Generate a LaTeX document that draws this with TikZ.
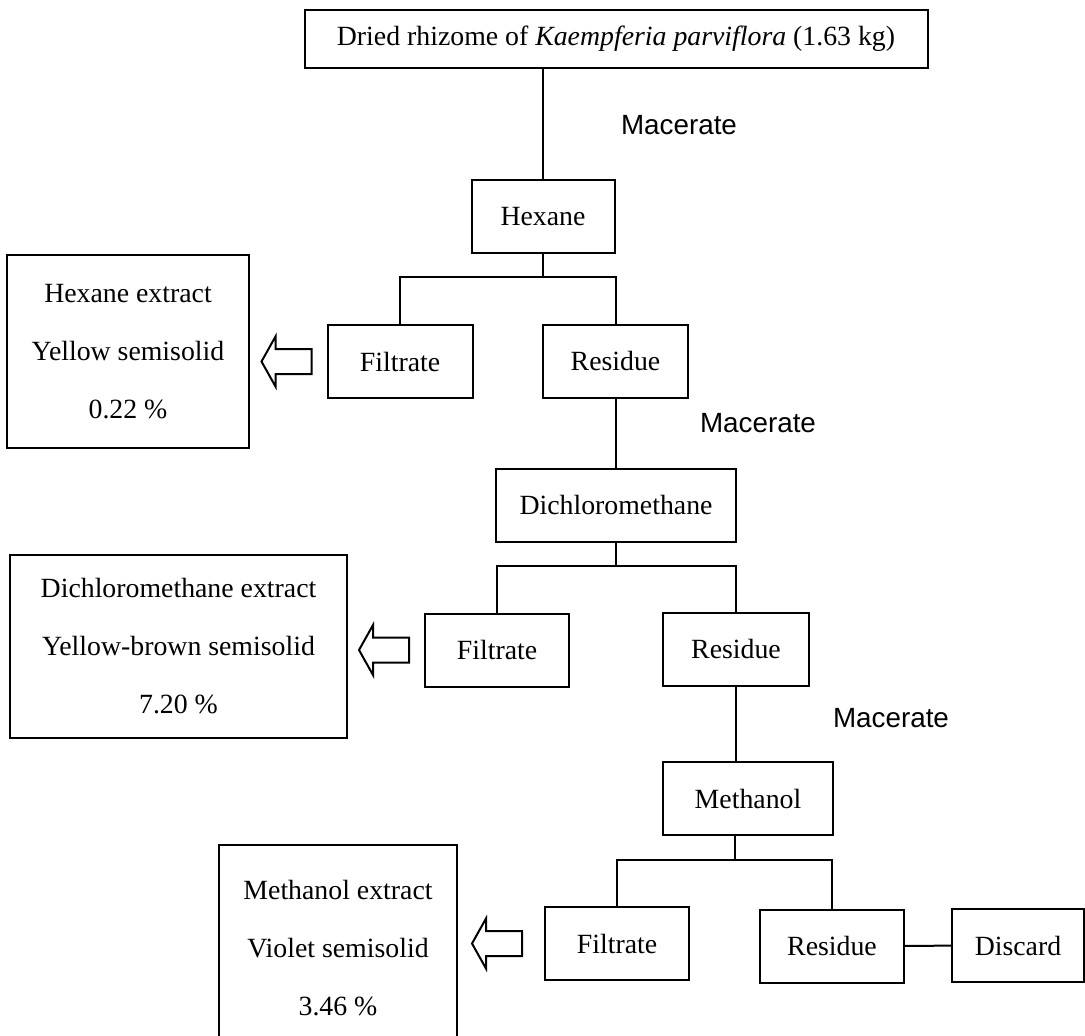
\documentclass[tikz,border=0pt]{standalone}
\usepackage{fontspec}
\setmainfont{Liberation Serif}
\newfontfamily\macfont{Liberation Sans}

\begin{document}
\begin{tikzpicture}[x=0.5pt, y=-0.5pt,
    box/.style={draw, line width=1pt, inner sep=0pt, minimum height=36.5pt, font=\fontsize{13.9}{17}\selectfont},
    extbox/.style={box, align=center},
    steplabel/.style={font=\macfont\fontsize{13.9}{17}\selectfont},
    link/.style={line width=1pt}]
    \useasboundingbox (0,0) rectangle (1085,1035);
    \clip (0,0) rectangle (1085,1035);

    % starting material
    \node[box, minimum width=311.5pt, minimum height=29pt] (top) at (616,39)
        {Dried rhizome of \textit{Kaempferia parviflora} (1.63 kg)};

    % hexane step
    \node[steplabel] (macA) at (679,125) {Macerate};
    \node[box, minimum width=71.5pt] (hexane) at (543,216.5) {Hexane};
    \node[box, minimum width=72.5pt] (filtA) at (400,361.5) {Filtrate};
    \node[box, minimum width=72.5pt] (resA) at (615.5,361) {Residue};
    \node[extbox, minimum width=121pt, minimum height=96.5pt] (hexext) at (128,351.5)
        {Hexane extract\\[12pt]Yellow semisolid\\[12pt]0.22 \%};

    % dichloromethane step
    \node[steplabel] (macB) at (758,423) {Macerate};
    \node[box, minimum width=120pt] (dcm) at (616,505) {Dichloromethane};
    \node[box, minimum width=72pt] (filtB) at (497,650) {Filtrate};
    \node[box, minimum width=73pt] (resB) at (736,649) {Residue};
    \node[extbox, minimum width=168.5pt, minimum height=91.5pt] (dcmext) at (178.5,646.5)
        {Dichloromethane extract\\[12pt]Yellow-brown semisolid\\[12pt]7.20 \%};

    % methanol step
    \node[steplabel] (macC) at (891,718) {Macerate};
    \node[box, minimum width=85pt] (meth) at (748,798.5) {Methanol};
    \node[box, minimum width=72pt] (filtC) at (617,943.5) {Filtrate};
    \node[box, minimum width=72pt] (resC) at (832,946) {Residue};
    \node[box, minimum width=66pt] (discard) at (1018,945.5) {Discard};
    \node[extbox, minimum width=119pt, minimum height=103pt] (methext) at (338,948)
        {Methanol extract\\[12pt]Violet semisolid\\[12pt]3.46 \%};

    % connectors
    \draw[link] (hexane.north) -- (hexane.north |- top.south);
    \coordinate (forkA) at (543,277);
    \draw[link] (hexane.south) -- (forkA);
    \draw[link] (filtA.north) |- (forkA) -| (resA.north);
    \draw[link] (resA.south) -- (resA.south |- dcm.north);
    \coordinate (forkB) at (616,566);
    \draw[link] (dcm.south) -- (forkB);
    \draw[link] (filtB.north) |- (forkB) -| (resB.north);
    \draw[link] (resB.south) -- (resB.south |- meth.north);
    \coordinate (forkC) at (735,860);
    \draw[link] (meth.south -| forkC) -- (forkC);
    \draw[link] (filtC.north) |- (forkC) -| (resC.north);
    \draw[link] (resC) -- (discard);

    % hollow arrows from filtrate to extract
    \foreach \f/\gap in {filtA/15, filtB/15, filtC/22}
        \draw[link] (\f.west) ++(-\gap,-12.5) -- ++(-36,0) -- ++(0,-12.5)
            -- ++(-14,25) -- ++(14,25) -- ++(0,-12.5) -- ++(36,0) -- cycle;
\end{tikzpicture}
\end{document}
